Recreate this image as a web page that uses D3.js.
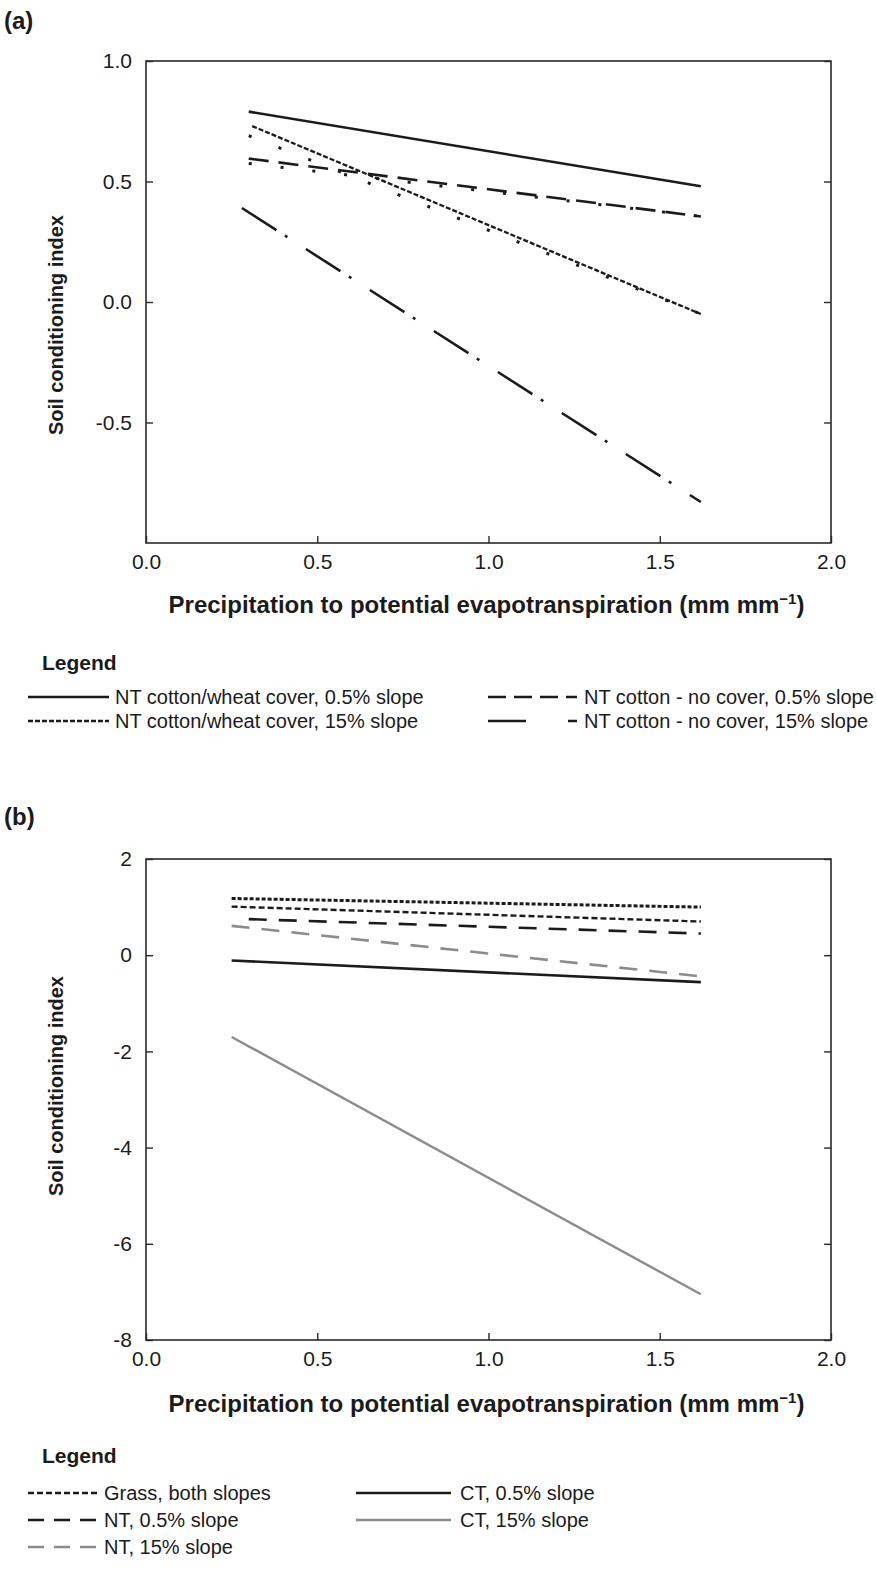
<!DOCTYPE html>
<html>
<head>
<meta charset="utf-8">
<script src="https://cdn.jsdelivr.net/npm/d3@7"></script>
<style>
  body { margin: 0; background: #fff; }
  svg { display: block; font-family: 'Liberation Sans', Arial, sans-serif; }
</style>
</head>
<body>
<div id="chart"></div>
<script>
// shared x axis
const xTicks = [0.0, 0.5, 1.0, 1.5, 2.0];

// panel (a)
const aYTicks = [1.0, 0.5, 0.0, -0.5];
const aNames = [
  'NT cotton/wheat cover, 0.5% slope',
  'NT cotton/wheat cover, 15% slope',
  'NT cotton - no cover, 0.5% slope',
  'NT cotton - no cover, 15% slope'
];
const aX = [[0.30, 1.62], [0.31, 1.62], [0.30, 1.62], [0.28, 1.62]];
const aY = [[0.79, 0.48], [0.73, -0.05], [0.595, 0.355], [0.39, -0.83]];
// point markers that trail two of the lines
const aDotX = [[0.30, 1.62], [0.30, 1.62]];
const aDotY = [[0.69, -0.05], [0.575, 0.355]];

// panel (b)
const bYTicks = [2, 0, -2, -4, -6, -8];
const bNames = [
  'Grass, both slopes',
  'Grass, both slopes',
  'NT, 0.5% slope',
  'NT, 15% slope',
  'CT, 0.5% slope',
  'CT, 15% slope'
];
const bX = [[0.25, 1.62], [0.25, 1.62], [0.30, 1.62], [0.25, 1.62], [0.25, 1.62], [0.25, 1.62]];
const bY = [[1.18, 1.00], [1.01, 0.70], [0.75, 0.45], [0.61, -0.44], [-0.11, -0.56], [-1.70, -7.05]];

const W = 876, H = 1584;
const left = 146, right = 831;
const BLACK = '#1b1b1b', GREY = '#8c8c8c';

const aStyles = [
  { stroke: BLACK, width: 2.6, dash: null },
  { stroke: BLACK, width: 2.3, dash: '5,2' },
  { stroke: BLACK, width: 2.6, dash: '20,10' },
  { stroke: BLACK, width: 2.6, dash: '41,10,3,22' }
];
const aLegend = [
  { col: 0, row: 0, dash: null },
  { col: 0, row: 1, dash: '5,2' },
  { col: 1, row: 0, dash: '18,8' },
  { col: 1, row: 1, dash: '38,42,8,0' }
];
const bStyles = [
  { stroke: BLACK, width: 3, dash: '4,2' },
  { stroke: BLACK, width: 2.4, dash: '6,3' },
  { stroke: BLACK, width: 2.6, dash: '18,12' },
  { stroke: GREY, width: 2.6, dash: '18,12' },
  { stroke: BLACK, width: 2.6, dash: null },
  { stroke: GREY, width: 2.4, dash: null }
];
const bLegend = [
  { series: 1, col: 0, row: 0 },
  { series: 2, col: 0, row: 1 },
  { series: 3, col: 0, row: 2 },
  { series: 4, col: 1, row: 0 },
  { series: 5, col: 1, row: 1 }
];

const svg = d3.select('#chart').append('svg').attr('width', W).attr('height', H);
svg.append('rect').attr('width', W).attr('height', H).attr('fill', '#fff');

const line = d3.line();
// plain hyphen for negatives, as in the original figure
const hyphen = (fmt) => (v) => fmt(v).replace('\u2212', '-');

function drawPanel(cfg) {
  const x = d3.scaleLinear().domain([0, 2]).range([left, right]);
  const y = d3.scaleLinear().domain(cfg.yDomain).range([cfg.bottom, cfg.top]);

  svg.append('text')
    .attr('x', 4).attr('y', cfg.tagY)
    .attr('font-size', 24).attr('font-weight', 700).attr('fill', BLACK)
    .text(cfg.tag);

  const g = svg.append('g');

  // lines
  cfg.xs.forEach((xs, i) => {
    const st = cfg.styles[i];
    g.append('path')
      .attr('d', line(xs.map((v, k) => [x(v), y(cfg.ys[i][k])])))
      .attr('fill', 'none')
      .attr('stroke', st.stroke)
      .attr('stroke-width', st.width)
      .attr('stroke-dasharray', st.dash);
  });
  (cfg.dotXs || []).forEach((xs, i) => {
    g.append('path')
      .attr('d', line(xs.map((v, k) => [x(v), y(cfg.dotYs[i][k])])))
      .attr('fill', 'none')
      .attr('stroke', BLACK)
      .attr('stroke-width', 3)
      .attr('stroke-dasharray', '3,29');
  });

  // frame
  g.append('rect')
    .attr('x', left).attr('y', cfg.top)
    .attr('width', right - left).attr('height', cfg.bottom - cfg.top)
    .attr('fill', 'none').attr('stroke', '#2a2a2a').attr('stroke-width', 1.6);

  const xAxis = g.append('g').attr('transform', `translate(0,${cfg.bottom})`)
    .call(d3.axisBottom(x).tickValues(xTicks).tickSizeInner(-7).tickSizeOuter(0)
      .tickPadding(11).tickFormat(d3.format('.1f')));
  const yAxis = g.append('g').attr('transform', `translate(${left},0)`)
    .call(d3.axisLeft(y).tickValues(cfg.yTicks).tickSizeInner(-7).tickSizeOuter(0)
      .tickPadding(14).tickFormat(hyphen(cfg.yFormat)));
  const yAxisR = g.append('g').attr('transform', `translate(${right},0)`)
    .call(d3.axisRight(y).tickValues(cfg.yTicks).tickSizeInner(-7).tickSizeOuter(0).tickFormat(''));
  [xAxis, yAxis, yAxisR].forEach((a) => {
    a.select('.domain').remove();
    a.selectAll('line').attr('stroke', '#2a2a2a').attr('stroke-width', 1.4);
    a.selectAll('text').attr('font-size', 21).attr('fill', BLACK)
      .attr('font-family', "'Liberation Sans', Arial, sans-serif");
  });

  // axis titles
  const xt = svg.append('text')
    .attr('x', (left + right) / 2 - 2).attr('y', cfg.xTitleY)
    .attr('text-anchor', 'middle').attr('font-size', 24).attr('font-weight', 700).attr('fill', BLACK);
  xt.append('tspan').text('Precipitation to potential evapotranspiration (mm mm');
  xt.append('tspan').attr('font-size', 15).attr('dy', -9).text('\u22121');
  xt.append('tspan').attr('dy', 9).text(')');

  svg.append('text')
    .attr('transform', `translate(63,${cfg.yTitleC}) rotate(-90)`)
    .attr('text-anchor', 'middle').attr('font-size', 20).attr('font-weight', 700).attr('fill', BLACK)
    .text('Soil conditioning index');

  // legend
  svg.append('text')
    .attr('x', 42).attr('y', cfg.legendY)
    .attr('font-size', 21).attr('font-weight', 700).attr('fill', BLACK)
    .text('Legend');
  const lg = svg.append('g');
  cfg.legend.forEach((it, i) => {
    const s = it.series != null ? it.series : i;
    const st = cfg.styles[s];
    const col = cfg.legendCols[it.col];
    const ly = cfg.legendRows[it.row];
    lg.append('line')
      .attr('x1', col.x0).attr('x2', col.x1).attr('y1', ly).attr('y2', ly)
      .attr('stroke', st.stroke).attr('stroke-width', st.width)
      .attr('stroke-dasharray', it.dash !== undefined ? it.dash : (cfg.legendDash[s] || st.dash));
    lg.append('text')
      .attr('x', col.tx).attr('y', ly).attr('dy', '0.35em')
      .attr('font-size', 20).attr('fill', BLACK)
      .text(cfg.names[s]);
  });
}

drawPanel({
  tag: '(a)', tagY: 29,
  top: 61, bottom: 543, yDomain: [-1, 1], yTicks: aYTicks, yFormat: d3.format('.1f'),
  names: aNames, xs: aX, ys: aY, styles: aStyles, dotXs: aDotX, dotYs: aDotY,
  xTitleY: 613, yTitleC: 325,
  legendY: 670, legend: aLegend, legendDash: {},
  legendRows: [697, 721],
  legendCols: [{ x0: 28, x1: 109, tx: 115 }, { x0: 488, x1: 577, tx: 584 }]
});

drawPanel({
  tag: '(b)', tagY: 825,
  top: 859, bottom: 1340, yDomain: [-8, 2], yTicks: bYTicks, yFormat: d3.format('d'),
  names: bNames, xs: bX, ys: bY, styles: bStyles,
  xTitleY: 1412, yTitleC: 1086,
  legendY: 1463, legend: bLegend, legendDash: { 1: '6,3', 2: '16,10', 3: '16,10' },
  legendRows: [1493, 1520, 1547],
  legendCols: [{ x0: 28, x1: 97, tx: 104 }, { x0: 356, x1: 451, tx: 460 }]
});
</script>
</body>
</html>
